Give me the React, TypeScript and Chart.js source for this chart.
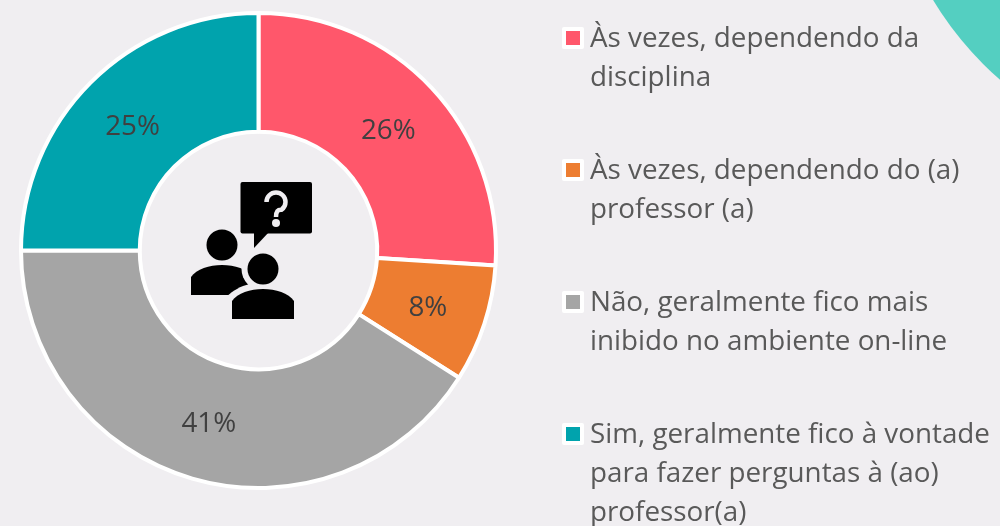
import React, { useEffect, useRef } from "react";
import { Chart, registerables } from "chart.js";

Chart.register(...registerables);

const categories = [
  "Às vezes, dependendo da disciplina",
  "Às vezes, dependendo do (a) professor (a)",
  "Não, geralmente fico mais inibido no ambiente on-line",
  "Sim, geralmente fico à vontade para fazer perguntas à (ao) professor(a)",
];
const percentages = [26, 8, 41, 25];
const sliceColors = ["#FF576B", "#ED7D31", "#A5A5A5", "#00A3AD"];
const legendLines = [
  ["Às vezes, dependendo da", "disciplina"],
  ["Às vezes, dependendo do (a)", "professor (a)"],
  ["Não, geralmente fico mais", "inibido no ambiente on-line"],
  ["Sim, geralmente fico à vontade", "para fazer perguntas à (ao)", "professor(a)"],
];
const legendTops = [37, 169, 301, 433];

const FONT = '27.8px "Open Sans", sans-serif';
const TEXT = "#595959";
const BG = "#F0EEF1";

const backdrop = {
  id: "backdrop",
  beforeDraw(chart: any) {
    const c = chart.ctx;
    c.save();
    c.fillStyle = BG;
    c.fillRect(0, 0, chart.width, chart.height);
    c.fillStyle = "#54CFC1";
    c.beginPath();
    c.arc(1224, -176, 340, 0, Math.PI * 2);
    c.fill();
    c.restore();
  },
};

const sliceLabels = {
  id: "sliceLabels",
  afterDatasetsDraw(chart: any) {
    const c = chart.ctx;
    const meta = chart.getDatasetMeta(0);
    c.save();
    c.font = FONT;
    c.fillStyle = "#404040";
    c.textAlign = "center";
    c.textBaseline = "middle";
    meta.data.forEach((arc: any, i: number) => {
      const p = arc.tooltipPosition();
      c.fillText(percentages[i] + "%", p.x, p.y + 3);
    });
    c.restore();
  },
};

const sideLegend = {
  id: "sideLegend",
  afterDraw(chart: any) {
    const c = chart.ctx;
    c.save();
    c.font = FONT;
    c.textBaseline = "middle";
    legendLines.forEach((lines, i) => {
      const top = legendTops[i];
      c.fillStyle = "#FFFFFF";
      c.beginPath();
      c.roundRect(562, top - 10, 22, 22, 2);
      c.fill();
      c.fillStyle = sliceColors[i];
      c.fillRect(566, top - 6, 14, 14);
      c.fillStyle = TEXT;
      lines.forEach((line, j) => c.fillText(line, 590, top + 2 + j * 39.2));
    });
    c.restore();
  },
};

const centerIcon = {
  id: "centerIcon",
  afterDraw(chart: any) {
    const c = chart.ctx;
    c.save();
    c.fillStyle = "#000000";
    c.beginPath();
    c.roundRect(240.5, 182, 71.5, 51.5, 2);
    c.fill();
    c.beginPath();
    c.moveTo(254, 232);
    c.lineTo(254, 248);
    c.lineTo(269, 232);
    c.fill();
    c.strokeStyle = BG;
    c.lineWidth = 4.5;
    c.beginPath();
    c.arc(276, 202, 9.5, Math.PI * 1.0, Math.PI * 2.3);
    c.quadraticCurveTo(276, 209, 276, 217);
    c.stroke();
    c.fillStyle = BG;
    c.beginPath();
    c.arc(276, 223, 4, 0, Math.PI * 2);
    c.fill();
    c.fillStyle = "#000000";
    const person = (cx: number, headY: number, bottom: number) => {
      c.beginPath();
      c.arc(cx, headY, 15.5, 0, Math.PI * 2);
      c.fill();
      c.beginPath();
      c.moveTo(cx - 31, bottom);
      c.lineTo(cx - 31, bottom - 18);
      c.bezierCurveTo(cx - 20, bottom - 34, cx + 20, bottom - 34, cx + 31, bottom - 18);
      c.lineTo(cx + 31, bottom);
      c.closePath();
      c.fill();
    };
    person(222, 245, 295);
    c.fillStyle = BG;
    c.beginPath();
    c.arc(263, 269, 21.5, 0, Math.PI * 2);
    c.fill();
    c.beginPath();
    c.moveTo(227, 296);
    c.bezierCurveTo(233, 291, 240, 286, 250, 284);
    c.lineTo(275, 284);
    c.lineTo(275, 297);
    c.closePath();
    c.fill();
    c.fillStyle = "#000000";
    person(263, 269, 319);
    c.restore();
  },
};

export default function App() {
  const ref = useRef<HTMLCanvasElement>(null);
  useEffect(() => {
    const chart = new Chart(ref.current!, {
      type: "doughnut",
      data: {
        labels: categories,
        datasets: [
          {
            data: percentages,
            backgroundColor: sliceColors,
            borderColor: "#FFFFFF",
            borderWidth: 4,
          },
        ],
      },
      options: {
        animation: false,
        responsive: false,
        cutout: "50%",
        rotation: 0,
        layout: { padding: { left: 19, top: 11, right: 502, bottom: 36 } },
        plugins: { legend: { display: false }, tooltip: { enabled: false } },
      },
      plugins: [backdrop, sliceLabels, sideLegend, centerIcon],
    });
    return () => chart.destroy();
  }, []);
  return (
    <canvas
      ref={ref}
      width={1000}
      height={526}
      style={{ position: "fixed", left: 0, top: 0, width: 1000, height: 526 }}
    />
  );
}
